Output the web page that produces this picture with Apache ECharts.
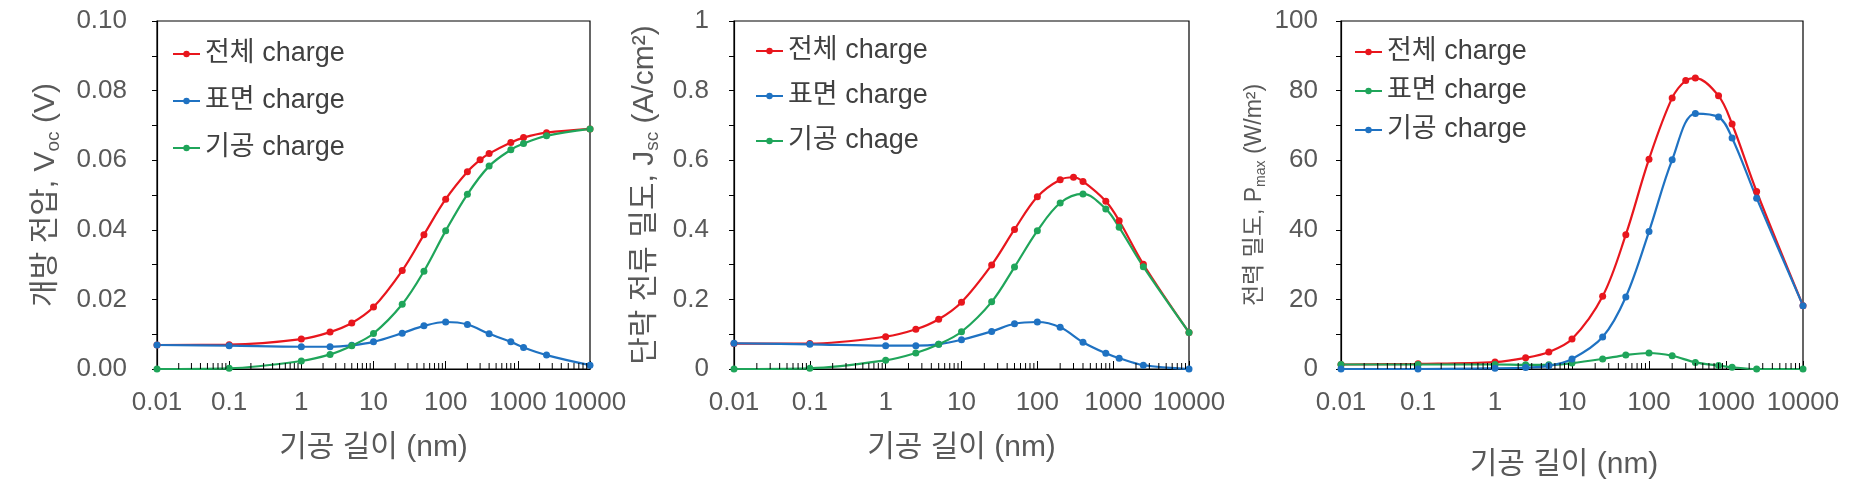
<!DOCTYPE html>
<html><head><meta charset="utf-8">
<script src="https://cdn.jsdelivr.net/npm/echarts@6/dist/echarts.min.js"></script>
<style>html,body{margin:0;padding:0;background:#fff}#c{width:1855px;height:491px}</style>
</head><body><div id="c"></div>
<script>
// ---- data ----
const xFull = [0.01, 0.1, 1, 2.5, 5, 10, 25, 50, 100, 200, 300, 400, 800, 1200, 2500, 10000];
const xSub  = [0.01, 0.1, 1, 2.5, 5, 10, 25, 50, 100, 200, 400, 800, 1200, 2500, 10000];

// Panel 1: open-circuit voltage (V)
const vocTotal   = [0.0069, 0.0070, 0.0086, 0.0106, 0.0132, 0.0178, 0.0283, 0.0386, 0.0488, 0.0567, 0.0601, 0.0619, 0.0651, 0.0665, 0.0679, 0.0690];
const vocSurface = [0.0069, 0.0067, 0.0064, 0.0064, 0.0068, 0.0078, 0.0103, 0.0124, 0.0135, 0.0128, 0.0101, 0.0078, 0.0062, 0.0040, 0.0011];
const vocPore    = [0.0000, 0.0002, 0.0023, 0.0042, 0.0067, 0.0102, 0.0186, 0.0281, 0.0397, 0.0502, 0.0583, 0.0630, 0.0648, 0.0670, 0.0690];

// Panel 2: short-circuit current density (A/cm2)
const jscTotal   = [0.073, 0.073, 0.093, 0.114, 0.143, 0.192, 0.299, 0.401, 0.495, 0.544, 0.551, 0.539, 0.482, 0.426, 0.301, 0.105];
const jscSurface = [0.074, 0.071, 0.067, 0.067, 0.071, 0.084, 0.108, 0.130, 0.135, 0.120, 0.077, 0.045, 0.031, 0.011, 0.000];
const jscPore    = [0.000, 0.002, 0.025, 0.046, 0.071, 0.107, 0.193, 0.293, 0.397, 0.477, 0.503, 0.460, 0.407, 0.294, 0.105];

// Panel 3: power density (W/m2)
const pTotal   = [1.3, 1.5, 2.0, 3.2, 4.9, 8.6, 20.9, 38.6, 60.3, 77.9, 82.9, 83.6, 78.5, 70.4, 51.0, 18.2];
const pSurface = [1.3, 1.3, 1.3, 1.2, 1.2, 1.7, 2.9, 4.0, 4.6, 3.8, 1.9, 1.0, 0.5, 0.0, 0.0];
const pPore    = [0.0, 0.0, 0.2, 0.4, 0.9, 2.9, 9.2, 20.7, 39.5, 60.1, 73.4, 72.4, 66.4, 49.1, 18.2];

// tick labels
const xTickLabels = ['0.01', '0.1', '1', '10', '100', '1000', '10000'];
const yTickLabels1 = ['0.00', '0.02', '0.04', '0.06', '0.08', '0.10'];
const yTickLabels2 = ['0', '0.2', '0.4', '0.6', '0.8', '1'];
const yTickLabels3 = ['0', '20', '40', '60', '80', '100'];
const minorTickValues = [
  0.02,0.03,0.04,0.05,0.06,0.07,0.08,0.09,
  0.2,0.3,0.4,0.5,0.6,0.7,0.8,0.9,
  2,3,4,5,6,7,8,9,
  20,30,40,50,60,70,80,90,
  200,300,400,500,600,700,800,900,
  2000,3000,4000,5000,6000,7000,8000,9000
];

// names
const legend1 = ['전체 charge', '표면 charge', '기공 charge'];
const legend2 = ['전체 charge ', '표면 charge ', '기공 chage'];
const legend3 = ['전체 charge  ', '표면 charge  ', '기공 charge  '];

const RED = '#e8161d', BLUE = '#1f72c2', GREEN = '#1fa55a';
const FONT = '"Liberation Sans", "Noto Sans CJK KR", sans-serif';
const GRAY = '#595959';

const zip = (xs, ys) => xs.map((x, i) => [x, ys[i]]);

const grids = [
  {left: 157, top: 21, width: 433, height: 348},
  {left: 734, top: 21, width: 455, height: 348},
  {left: 1341, top: 21, width: 462, height: 348}
];

function xAxis(i, nameGap, namePad) {
  return {
    type: 'log', logBase: 10, gridIndex: i, min: 0.01, max: 10000, splitNumber: 6,
    axisLine: {show: true, lineStyle: {color: '#000', width: 1.2}},
    axisTick: {show: true, inside: true, length: 8, lineStyle: {color: '#000', width: 1}},
    splitLine: {show: false}, minorTick: {show: false}, minorSplitLine: {show: false},
    axisLabel: {
      color: GRAY, fontSize: 26, fontFamily: FONT, margin: 21, lineHeight: 26,
      formatter: v => xTickLabels[Math.round(Math.log10(v)) + 2]
    },
    name: '기공 길이 (nm)', nameLocation: 'middle', nameGap: nameGap,
    nameTextStyle: {color: GRAY, fontSize: 30, fontFamily: FONT, lineHeight: 34, padding: namePad || 0}
  };
}

function yAxis(i, max, interval, labels, margin, name, rich, nameGap) {
  return {
    type: 'value', gridIndex: i, min: 0, max: max, interval: interval,
    axisLine: {show: true, lineStyle: {color: '#000', width: 1.2}},
    axisTick: {show: true, inside: false, length: 5, lineStyle: {color: '#000', width: 1}},
    splitLine: {show: false},
    axisLabel: {
      color: GRAY, fontSize: 26, fontFamily: FONT, margin: margin,
      formatter: v => { const k = Math.round(v / interval); return k % 2 === 0 ? labels[k / 2] : ''; }
    },
    name: name, nameLocation: 'middle', nameGap: nameGap, nameRotate: 90,
    nameTextStyle: {color: GRAY, fontFamily: FONT, rich: rich}
  };
}

function richFor(size) {
  return {
    t: {fontSize: size, lineHeight: size + 4, fontFamily: FONT, color: GRAY, verticalAlign: 'middle'},
    s: {fontSize: Math.round(size * 0.62), lineHeight: Math.round(size * 0.62), fontFamily: FONT, color: GRAY, verticalAlign: 'bottom'}
  };
}

function lineSeries(name, i, xs, ys, color) {
  return {
    name: name, type: 'line', xAxisIndex: i, yAxisIndex: i, data: zip(xs, ys),
    smooth: 0.35, symbol: 'circle', symbolSize: 7, showSymbol: true,
    lineStyle: {color: color, width: 2.2}, itemStyle: {color: color},
    emphasis: {disabled: true}, animation: false
  };
}

function minorTicks(i) {
  return {
    type: 'custom', xAxisIndex: i, yAxisIndex: i, silent: true, z: 5,
    data: minorTickValues.map(v => [v, 0]),
    encode: {x: 0, y: 1},
    renderItem: (params, api) => {
      const p = api.coord([api.value(0), api.value(1)]);
      return {type: 'line', shape: {x1: p[0], y1: p[1], x2: p[0], y2: p[1] - 6},
              style: {stroke: '#000', lineWidth: 1}};
    }
  };
}

function legend(left, top, gap, names, colors) {
  return {
    orient: 'vertical', left: left, top: top, itemGap: gap, itemWidth: 27, itemHeight: 8,
    textStyle: {fontSize: 27, lineHeight: 30, color: '#404040', fontFamily: FONT},
    selectedMode: false,
    data: names.map((n, k) => ({name: n, itemStyle: {color: colors[k]}, lineStyle: {color: colors[k]}}))
  };
}

const option = {
  animation: false,
  backgroundColor: '#fff',
  grid: grids.map(g => Object.assign({show: true, borderColor: '#000', borderWidth: 1.2, backgroundColor: 'transparent', outerBoundsMode: 'none', containLabel: false}, g)),
  legend: [
    legend(167, 34, 17, legend1, [RED, BLUE, GREEN]),
    legend(750, 31, 15, legend2, [RED, BLUE, GREEN]),
    legend(1349, 32, 9, legend3, [RED, GREEN, BLUE])
  ],
  xAxis: [xAxis(0, 62), xAxis(1, 62), xAxis(2, 79, [0, 16, 0, 0])],
  yAxis: [
    yAxis(0, 0.1, 0.01, yTickLabels1, 30, '{t|개방 전압, V}{s|oc}{t| (V)}', richFor(30), 94),
    yAxis(1, 1, 0.1, yTickLabels2, 25, '{t|단락 전류 밀도, J}{s|sc}{t| (A/cm²)}', richFor(30), 72),
    yAxis(2, 100, 10, yTickLabels3, 23, '{t|전력 밀도, P}{s|max}{t| (W/m²)}', richFor(23), 73)
  ],
  series: [
    minorTicks(0), minorTicks(1), minorTicks(2),
    lineSeries(legend1[0], 0, xFull, vocTotal, RED),
    lineSeries(legend1[1], 0, xSub, vocSurface, BLUE),
    lineSeries(legend1[2], 0, xSub, vocPore, GREEN),
    lineSeries(legend2[0], 1, xFull, jscTotal, RED),
    lineSeries(legend2[1], 1, xSub, jscSurface, BLUE),
    lineSeries(legend2[2], 1, xSub, jscPore, GREEN),
    lineSeries(legend3[0], 2, xFull, pTotal, RED),
    lineSeries(legend3[1], 2, xSub, pSurface, GREEN),
    lineSeries(legend3[2], 2, xSub, pPore, BLUE)
  ]
};

const chart = echarts.init(document.getElementById('c'), null, {renderer: 'canvas'});
chart.setOption(option);
</script>
</body></html>
